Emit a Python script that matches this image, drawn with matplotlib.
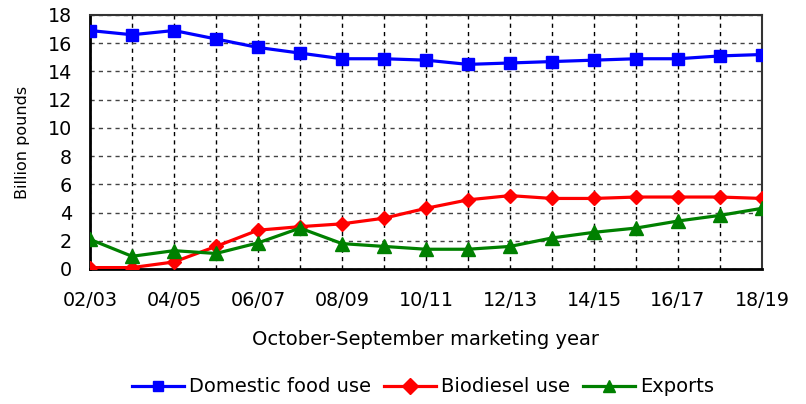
import numpy as np
import matplotlib.pyplot as plt

plt.rcParams['font.family'] = ['DejaVu Sans']

years = ["02/03", "03/04", "04/05", "05/06", "06/07", "07/08", "08/09", "09/10",
         "10/11", "11/12", "12/13", "13/14", "14/15", "15/16", "16/17", "17/18", "18/19"]
domestic = [16.9, 16.6, 16.9, 16.3, 15.7, 15.3, 14.9, 14.9, 14.8, 14.5, 14.6,
            14.7, 14.8, 14.9, 14.9, 15.1, 15.2]
biodiesel = [0.1, 0.1, 0.5, 1.6, 2.75, 3.0, 3.2, 3.6, 4.3, 4.9, 5.2,
             5.0, 5.0, 5.1, 5.1, 5.1, 5.0]
exports = [2.1, 0.9, 1.3, 1.1, 1.85, 2.9, 1.8, 1.6, 1.4, 1.4, 1.6,
           2.2, 2.6, 2.9, 3.4, 3.8, 4.3]

x = np.arange(len(years))

fig = plt.figure(figsize=(8.06, 4.04), dpi=100)
ax = fig.add_axes([90/806, 1 - 269/404, 672/806, 254/404])

ax.plot(x, domestic, color="blue", lw=2.3, marker="s", ms=8, label="Domestic food use", zorder=3)
ax.plot(x, biodiesel, color="red", lw=2.3, marker="D", ms=7.3, label="Biodiesel use", zorder=3)
ax.plot(x, exports, color="green", lw=2.3, marker="^", ms=10.5, label="Exports", zorder=3)

ax.set_xlim(0, len(years) - 1)
ax.set_ylim(0, 18)
ax.set_yticks(range(0, 19, 2))
ax.set_xticks(x)
ax.set_xticklabels([y if i % 2 == 0 else "" for i, y in enumerate(years)])
ax.tick_params(axis="both", length=0, labelsize=13.8)
ax.tick_params(axis="y", pad=13)
ax.tick_params(axis="x", pad=16)
ax.xaxis.grid(True, color="black", linestyle=(0, (3, 3)), linewidth=1)
ax.yaxis.grid(True, color="#444444", linestyle=(0, (3, 3)), linewidth=1)
ax.set_axisbelow(True)

for side in ["left", "bottom"]:
    ax.spines[side].set_linewidth(2)
for side in ["top", "right"]:
    ax.spines[side].set_linewidth(1.5)
    ax.spines[side].set_color("#333333")

ax.set_ylabel("Billion pounds", fontsize=11.5, labelpad=13)
ax.set_xlabel("October-September marketing year", fontsize=14, labelpad=14)

leg = fig.legend(loc="center", ncol=3, frameon=False,
                 fontsize=14, handlelength=2.67, handletextpad=0.26, columnspacing=0.67)
leg.set_bbox_to_anchor((423/806, 1 - 387/404), transform=fig.transFigure)
for h, s in zip(leg.legend_handles, [7, 8.5, 9]):
    h.set_markersize(s)

fig.savefig("out.png", dpi=100)
